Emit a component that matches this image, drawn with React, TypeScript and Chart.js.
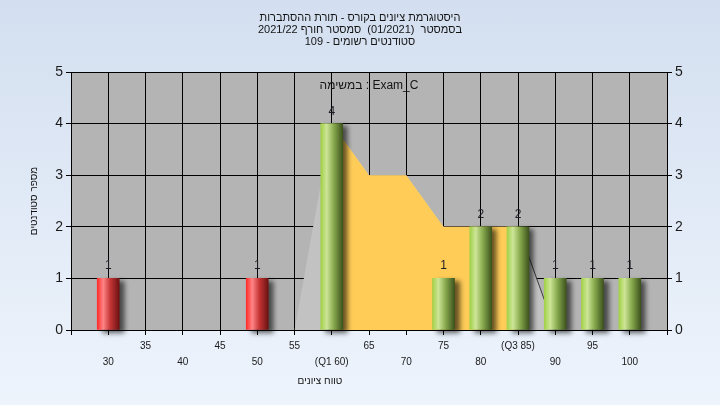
import React, { useEffect, useRef } from 'react';
import { Chart, registerables } from 'chart.js';

Chart.register(...registerables);

// ---- data ----
const titleLines = [
  'היסטוגרמת ציונים בקורס - תורת ההסתברות',
  'בסמסטר  (01/2021)  סמסטר חורף 2021/22',
  'סטודנטים רשומים - 109',
];
const subtitle = 'במשימה : Exam_C';
const xAxisTitle = 'טווח ציונים';
const yAxisTitle = 'מספר סטודנטים';

const grades = [30, 35, 40, 45, 50, 55, 60, 65, 70, 75, 80, 85, 90, 95, 100];
const counts = [1, 0, 0, 0, 1, 0, 4, 0, 0, 1, 2, 2, 1, 1, 1];
const passGrade = 55;

const curveGrades = [55, 60, 65, 70, 75, 80, 85, 90];
const curveValues = [0, 4, 3, 3, 2, 2, 2, 0];
const q1 = 60;
const q3 = 85;

const xMin = 25;
const xMax = 105;
const yMax = 5;

const FONT = '"Liberation Sans", Arial, "DejaVu Sans", sans-serif';

const greenStops: [number, string][] = [
  [0, '#a2d148'],
  [0.27, '#cde597'],
  [0.6, '#86a84c'],
  [1, '#3d531d'],
];
const redStops: [number, string][] = [
  [0, '#ff2b2b'],
  [0.27, '#ff8585'],
  [0.6, '#c43434'],
  [1, '#6c1212'],
];

export default function App() {
  const ref = useRef<HTMLCanvasElement | null>(null);

  useEffect(() => {
    if (!ref.current) return;

    const barData = grades
      .map((g, i) => ({ x: g, y: counts[i] }))
      .filter((d) => d.y > 0);
    const curveData = curveGrades.map((g, i) => ({ x: g, y: curveValues[i] }));
    const quartileData = curveData.filter((d) => d.x >= q1 && d.x <= q3);

    const barBg = (ctx: any) => {
      const chart = ctx.chart;
      const xs = chart.scales?.x;
      const raw = ctx.raw;
      const fallback = raw && raw.x < passGrade ? '#e03030' : '#9ccc40';
      if (!xs || !raw) return fallback;
      const cx = xs.getPixelForValue(raw.x);
      if (!isFinite(cx)) return fallback;
      const g = chart.ctx.createLinearGradient(cx - 11, 0, cx + 11, 0);
      const stops = raw.x < passGrade ? redStops : greenStops;
      stops.forEach(([o, c]) => g.addColorStop(o, c));
      return g;
    };

    const decor = {
      id: 'decor',
      beforeDraw(chart: any) {
        const { ctx, chartArea } = chart;
        ctx.save();
        ctx.fillStyle = '#b4b4b4';
        ctx.fillRect(chartArea.left, chartArea.top, chartArea.right - chartArea.left, chartArea.bottom - chartArea.top);
        ctx.restore();
      },
      beforeDatasetDraw(chart: any, args: any) {
        if (args.meta.type === 'bar') {
          const ctx = chart.ctx;
          ctx.save();
          ctx.shadowColor = 'rgba(0,0,0,0.6)';
          ctx.shadowBlur = 5;
          ctx.shadowOffsetX = 5;
          ctx.shadowOffsetY = 3;
        }
      },
      afterDatasetDraw(chart: any, args: any) {
        if (args.meta.type === 'bar') chart.ctx.restore();
      },
      afterDraw(chart: any) {
        const { ctx, chartArea } = chart;
        ctx.save();
        const meta = chart.getDatasetMeta(0);
        ctx.font = `12px ${FONT}`;
        ctx.fillStyle = '#1c1c24';
        ctx.textAlign = 'center';
        ctx.textBaseline = 'alphabetic';
        meta.data.forEach((el: any, i: number) => {
          const v = barData[i].y;
          ctx.fillText(String(v), el.x, el.y - 9);
        });
        ctx.direction = 'rtl';
        ctx.textBaseline = 'middle';
        ctx.fillStyle = '#141414';
        ctx.font = `11px ${FONT}`;
        titleLines.forEach((t, i) => ctx.fillText(t, 360, 18 + i * 12));
        ctx.direction = 'ltr';
        ctx.font = `12px ${FONT}`;
        ctx.fillText(subtitle, (chartArea.left + chartArea.right) / 2, 86);
        ctx.direction = 'rtl';
        ctx.font = `10px ${FONT}`;
        ctx.fillText(xAxisTitle, 320, 381);
        ctx.translate(34, (chartArea.top + chartArea.bottom) / 2);
        ctx.rotate(-Math.PI / 2);
        ctx.fillText(yAxisTitle, 0, 0);
        ctx.restore();
      },
    };

    const chart = new Chart(ref.current, {
      type: 'bar',
      data: {
        datasets: [
          {
            type: 'bar',
            data: barData as any,
            backgroundColor: barBg as any,
            borderWidth: 0,
            barThickness: 22,
            clip: false as any,
            order: 0,
          },
          {
            type: 'line',
            data: quartileData as any,
            borderWidth: 0,
            borderColor: 'rgba(0,0,0,0)',
            backgroundColor: '#ffcc57',
            fill: 'origin',
            pointRadius: 0,
            tension: 0,
            order: 1,
          },
          {
            type: 'line',
            data: curveData as any,
            borderWidth: 1,
            borderColor: 'rgba(0,0,0,0)',
            segment: {
              borderColor: (c: any) => (c.p0.parsed.x >= q3 ? '#3a3a3a' : undefined),
            },
            backgroundColor: '#c2c2c2',
            fill: 'origin',
            pointRadius: 0,
            tension: 0,
            order: 2,
          },
        ] as any,
      },
      options: {
        responsive: false,
        animation: false,
        devicePixelRatio: 1,
        layout: { padding: { top: 72, left: 0, right: 0, bottom: 0 } },
        plugins: {
          legend: { display: false },
          tooltip: { enabled: false },
          title: { display: false },
        },
        scales: {
          x: {
            type: 'linear',
            min: xMin,
            max: xMax,
            offset: false,
            afterFit: (s: any) => {
              s.height = 75;
            },
            grid: {
              color: '#000',
              lineWidth: 1,
              offset: false,
              drawTicks: true,
              tickLength: 5,
              tickColor: '#000',
            },
            border: { display: true, color: '#000' },
            ticks: {
              stepSize: 5,
              autoSkip: false,
              maxRotation: 0,
              padding: 3,
              color: '#1a1a1a',
              font: { size: 10, family: FONT, lineHeight: '16px' } as any,
              callback: (v: any) => {
                const n = Number(v);
                if (n < grades[0] || n > grades[grades.length - 1]) return '';
                let label = String(n);
                if (n === q1) label = `(Q1 ${n})`;
                if (n === q3) label = `(Q3 ${n})`;
                const idx = grades.indexOf(n);
                return idx % 2 === 1 ? [label, ''] : ['', label];
              },
            },
          },
          y: {
            type: 'linear',
            position: 'left',
            min: 0,
            max: yMax,
            afterFit: (s: any) => {
              s.width = 71;
            },
            grid: {
              color: '#000',
              lineWidth: 1,
              drawTicks: true,
              tickLength: 5,
              tickColor: '#000',
            },
            border: { display: true, color: '#000' },
            ticks: {
              stepSize: 1,
              padding: 3,
              color: '#1a1a1a',
              font: { size: 14, family: FONT },
            },
          },
          y2: {
            type: 'linear',
            position: 'right',
            min: 0,
            max: yMax,
            afterFit: (s: any) => {
              s.width = 53;
            },
            grid: {
              drawOnChartArea: false,
              drawTicks: true,
              tickLength: 5,
              tickColor: '#000',
            },
            border: { display: true, color: '#000' },
            ticks: {
              stepSize: 1,
              padding: 3,
              color: '#1a1a1a',
              font: { size: 14, family: FONT },
            },
          },
        },
      } as any,
      plugins: [decor],
    });

    return () => chart.destroy();
  }, []);

  return (
    <div
      style={{
        position: 'fixed',
        left: 0,
        top: 0,
        width: 720,
        height: 405,
        background: 'linear-gradient(#d3dff0, #eef4fc)',
      }}
    >
      <canvas ref={ref} width={720} height={405} style={{ display: 'block' }} />
    </div>
  );
}
